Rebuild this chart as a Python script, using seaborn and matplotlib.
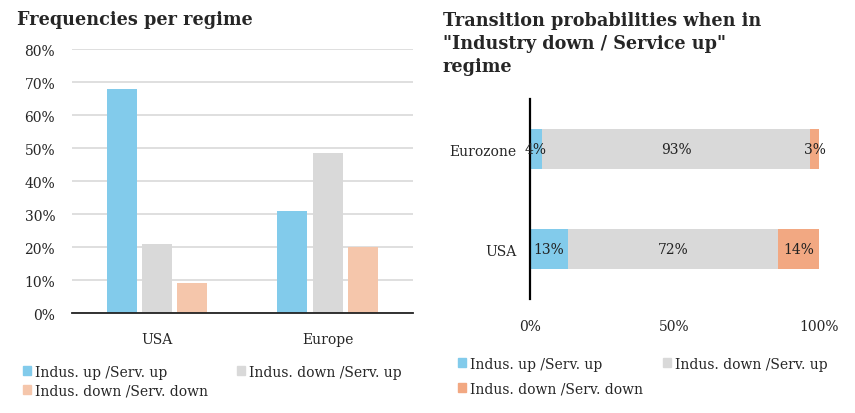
import numpy as np
import pandas as pd
import matplotlib
matplotlib.use("Agg")
import matplotlib.pyplot as plt
from matplotlib.patches import Patch
import seaborn as sns

# data
regimes = ["Indus. up /Serv. up", "Indus. down /Serv. up", "Indus. down /Serv. down"]
freq_countries = ["USA", "Europe"]
freq_usa = [68, 21, 9]
freq_europe = [31, 48.5, 20]

trans_countries = ["Eurozone", "USA"]
trans_eurozone = [4, 93, 3]
trans_usa = [13, 72, 14]

left_colors = ["#82CBEB", "#D9D9D9", "#F5C6AB"]
right_colors = ["#82CBEB", "#D9D9D9", "#F2A882"]

sns.set_theme(style="white")
plt.rcParams["font.family"] = ["DejaVu Serif"]
plt.rcParams["font.size"] = 10

fig = plt.figure(figsize=(8.55, 4.14), dpi=100)

# legend order so that rows read: item0, item1 / item2
leg_order = [0, 2, 1]

# left chart: frequencies per regime
df_freq = pd.DataFrame({
    "country": np.repeat(freq_countries, len(regimes)),
    "regime": regimes * len(freq_countries),
    "value": freq_usa + freq_europe,
})
ax1 = fig.add_axes([0.084, 0.2415, 0.399, 0.6377])
sns.barplot(data=df_freq, x="country", y="value", hue="regime", hue_order=regimes,
            palette=left_colors, width=0.62, gap=0.15, ax=ax1, saturation=1,
            linewidth=0, legend=False)
ax1.set_xlim(-0.5, 1.5)
ax1.set_ylim(0, 80)
yt = np.arange(0, 81, 10)
ax1.set_yticks(yt)
ax1.set_yticklabels([f"{t}%" for t in yt], fontsize=10)
ax1.tick_params(axis="x", labelsize=10, pad=8)
ax1.tick_params(axis="y", pad=12, length=0)
ax1.yaxis.grid(True, color="#D9D9D9", linewidth=1.2)
ax1.set_axisbelow(True)
for s in ["left", "right", "top"]:
    ax1.spines[s].set_visible(False)
ax1.spines["bottom"].set_color("#222222")
ax1.spines["bottom"].set_linewidth(1.3)
ax1.set_xlabel("")
ax1.set_ylabel("")
h1 = [Patch(color=left_colors[i]) for i in leg_order]
l1 = [regimes[i] for i in leg_order]
ax1.legend(h1, l1, ncol=2, frameon=False, loc="upper left",
           bbox_to_anchor=(-0.16, -0.175), fontsize=10,
           handlelength=0.6, handleheight=0.6, handletextpad=0.3,
           columnspacing=2.05, labelspacing=0.35, borderaxespad=0)
fig.text(0.02, 0.952, "Frequencies per regime", fontsize=12.7, fontweight="bold",
         ha="left", va="center")

# right chart: transition probabilities
df_tr = pd.DataFrame({
    "country": np.repeat(trans_countries, len(regimes)),
    "regime": regimes * len(trans_countries),
    "value": trans_eurozone + trans_usa,
})
df_tr["share"] = df_tr["value"] / df_tr.groupby("country")["value"].transform("sum") * 100
df_tr["cum"] = df_tr.groupby("country")["share"].cumsum()
df_tr["start"] = df_tr["cum"] - df_tr["share"]

ax2 = fig.add_axes([0.620, 0.275, 0.338, 0.483])
for i in reversed(range(len(regimes))):
    sub = df_tr[df_tr["regime"] == regimes[i]]
    sns.barplot(data=sub, y="country", x="cum", order=trans_countries,
                color=right_colors[i], width=0.4, saturation=1, linewidth=0, ax=ax2)
for _, r in df_tr.iterrows():
    yi = trans_countries.index(r["country"])
    ax2.text(r["start"] + r["share"] / 2, yi, f"{r['value']}%", ha="center",
             va="center", fontsize=10, color="#222222")
ax2.set_xlim(0, 100)
ax2.set_ylim(1.5, -0.5)
ax2.set_xticks([0, 50, 100])
ax2.set_xticklabels(["0%", "50%", "100%"], fontsize=10)
ax2.tick_params(axis="x", pad=14, length=0)
ax2.tick_params(axis="y", pad=10, length=0, labelsize=10)
for s in ["bottom", "right", "top"]:
    ax2.spines[s].set_visible(False)
ax2.spines["left"].set_color("black")
ax2.spines["left"].set_linewidth(1.6)
ax2.set_xlabel("")
ax2.set_ylabel("")
h2 = [Patch(color=right_colors[i]) for i in leg_order]
ax2.legend(h2, l1, ncol=2, frameon=False, loc="upper left",
           bbox_to_anchor=(-0.27, -0.26), fontsize=10,
           handlelength=0.6, handleheight=0.6, handletextpad=0.3,
           columnspacing=1.4, labelspacing=0.75, borderaxespad=0)
fig.text(0.518, 0.972, "Transition probabilities when in\n\"Industry down / Service up\"\nregime",
         fontsize=12.7, fontweight="bold", ha="left", va="top", linespacing=1.38)

fig.savefig("out.png", dpi=100)
